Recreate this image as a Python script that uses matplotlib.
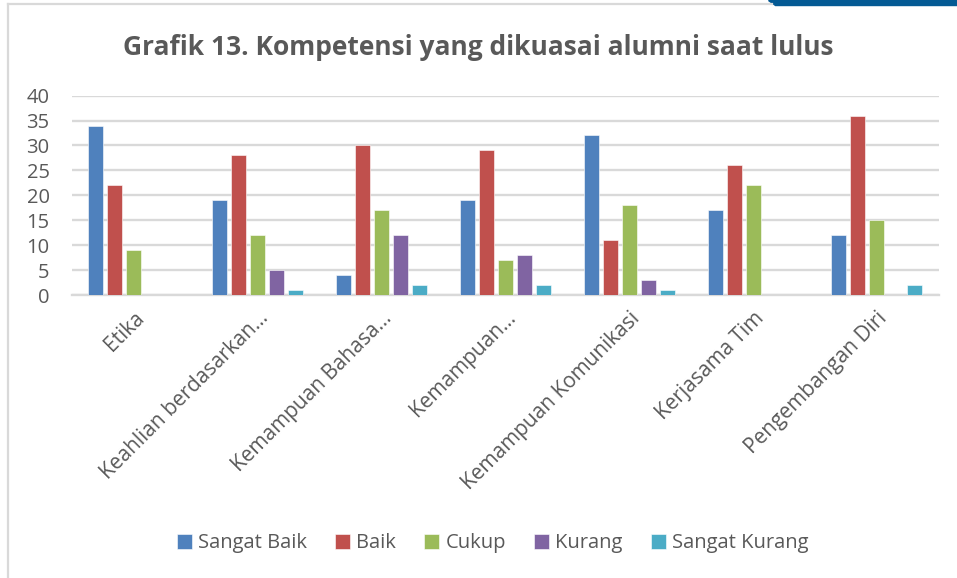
import numpy as np
import matplotlib.pyplot as plt
from matplotlib.patches import Polygon

categories = [
    "Etika",
    "Keahlian berdasarkan...",
    "Kemampuan Bahasa...",
    "Kemampuan...",
    "Kemampuan Komunikasi",
    "Kerjasama Tim",
    "Pengembangan Diri",
]
series_names = ["Sangat Baik", "Baik", "Cukup", "Kurang", "Sangat Kurang"]
sangat_baik = [34, 19, 4, 19, 32, 17, 12]
baik = [22, 28, 30, 29, 11, 26, 36]
cukup = [9, 12, 17, 7, 18, 22, 15]
kurang = [0, 5, 12, 8, 3, 0, 0]
sangat_kurang = [0, 1, 2, 2, 1, 0, 2]
yticks = [0, 5, 10, 15, 20, 25, 30, 35, 40]

colors = ["#4F81BD", "#C0504D", "#9BBB59", "#8064A2", "#4BACC6"]
text_color = "#595959"
grid_color = "#D9D9D9"

plt.rcParams["font.family"] = ["Open Sans", "DejaVu Sans"]

fig = plt.figure(figsize=(9.57, 5.78), dpi=100)
ax = fig.add_axes([0.075, 0.4896, 0.906, 0.345])

x = np.arange(len(categories))
step = 0.153
width = 0.121
values = [sangat_baik, baik, cukup, kurang, sangat_kurang]
for i, (name, vals) in enumerate(zip(series_names, values)):
    ax.bar(x + (i - 2) * step, vals, width=width, color=colors[i],
           edgecolor="white", linewidth=0.4, label=name, zorder=3)

ax.set_xlim(-0.5, len(categories) - 0.5)
ax.set_ylim(0, 40)
ax.set_yticks(yticks)
ax.yaxis.grid(True, color=grid_color, linewidth=1.7, zorder=0)
ax.tick_params(axis="y", length=0, pad=16, labelsize=14.5, labelcolor=text_color)
ax.tick_params(axis="x", length=0, pad=9)
for side in ["top", "right", "left"]:
    ax.spines[side].set_visible(False)
ax.spines["bottom"].set_color(grid_color)
ax.spines["bottom"].set_linewidth(1.7)

ax.set_xticks(x)
ax.set_xticklabels(categories, rotation=45, ha="right", va="top",
                   rotation_mode="anchor", fontsize=15, color=text_color)

fig.text(0.5, 0.918, "Grafik 13. Kompetensi yang dikuasai alumni saat lulus",
         ha="center", va="center", fontsize=19, fontweight="bold", color=text_color)

ax.legend(loc="center", bbox_to_anchor=(0.5146, 0.06), bbox_transform=fig.transFigure,
          ncol=5, frameon=False, fontsize=14.5, labelcolor=text_color,
          handlelength=0.75, handleheight=0.75, handletextpad=0.3, columnspacing=1.4)

# chart frame and corner decoration
fig.add_artist(plt.Line2D([8 / 957, 8 / 957], [0, 1 - 4 / 578], color=grid_color,
                          linewidth=1.6, transform=fig.transFigure))
fig.add_artist(plt.Line2D([8 / 957, 772 / 957], [1 - 4 / 578, 1 - 4 / 578], color=grid_color,
                          linewidth=1.6, transform=fig.transFigure))
fig.add_artist(Polygon([[768 / 957, 1], [957 / 957, 1], [957 / 957, 1 - 5 / 578], [775 / 957, 1 - 5 / 578]],
                       closed=True, color="#045A94", transform=fig.transFigure))

fig.savefig("out.png", dpi=100)
